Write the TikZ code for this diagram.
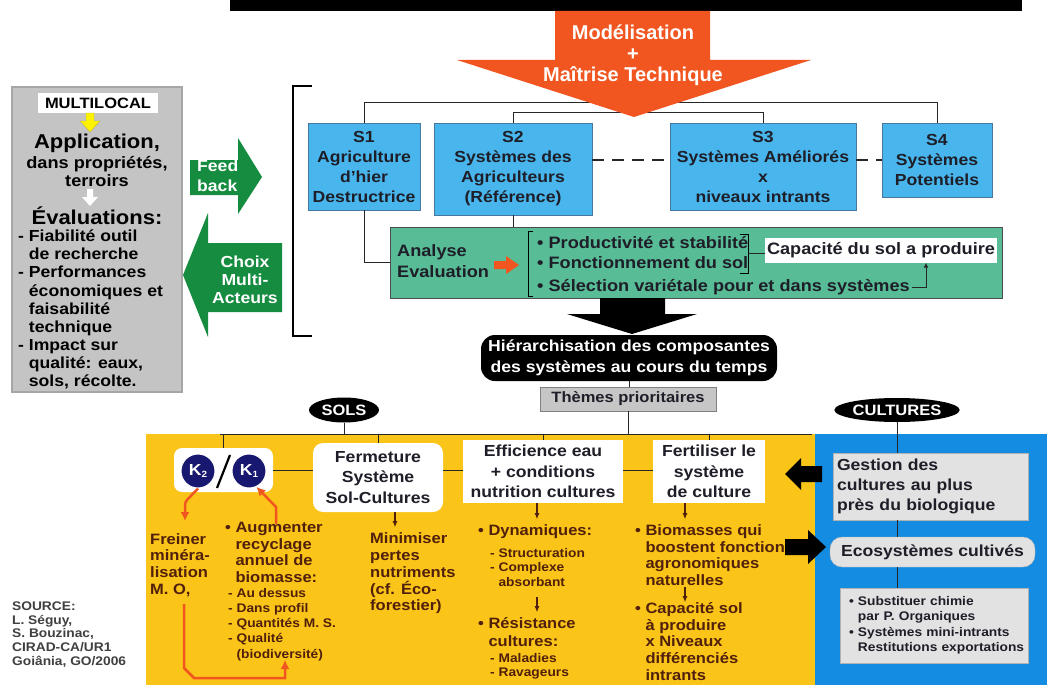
\documentclass[tikz,border=0pt]{standalone}
\usepackage{fontspec}
\setmainfont{Liberation Sans}[FakeStretch=1.1]
\newfontfamily\plainsans{Liberation Sans}
\usetikzlibrary{positioning, calc, arrows.meta, shapes.geometric}

\definecolor{orangeA}{RGB}{242,86,32}
\definecolor{sboxfill}{RGB}{72,182,236}
\definecolor{sboxline}{RGB}{70,120,160}
\definecolor{greenbox}{RGB}{88,188,150}
\definecolor{greenarr}{RGB}{22,140,64}
\definecolor{grayleft}{RGB}{196,196,196}
\definecolor{gold}{RGB}{250,196,24}
\definecolor{bluepanel}{RGB}{20,140,226}
\definecolor{lightgray}{RGB}{226,226,226}
\definecolor{brownT}{RGB}{80,32,12}
\definecolor{navyK}{RGB}{24,24,112}
\definecolor{darktext}{RGB}{30,30,40}

\newcommand{\fsz}[2]{\fontsize{#1}{#2}\selectfont\bfseries}

\begin{document}
\begin{tikzpicture}[x=1pt, y=-1pt,
  font=\fsz{15}{17},
  sbox/.style={rectangle, draw=sboxline, fill=sboxfill, align=center, text=darktext, inner sep=0pt, font=\fsz{16}{20}},
  wbox/.style={rectangle, fill=white, align=center, text=darktext, inner sep=0pt, font=\fsz{16}{20.5}},
  gbox/.style={rectangle, fill=lightgray, draw=gray!60, text=darktext, inner sep=0pt},
  txt/.style={inner sep=0pt, anchor=west, align=left, text=brownT},
  blk/.style={ellipse, fill=black, text=white, inner sep=0pt, font=\fsz{15}{17}},
  conn/.style={draw=black!85, line width=1pt},
  dashln/.style={draw=black!85, line width=1.8pt, dash pattern=on 12pt off 8pt},
  dn/.style={-{Latex[length=6pt,width=5pt]}, line width=1.2pt, brownT},
  orarr/.style={-{Latex[length=9pt,width=9pt]}, line width=2.5pt, orangeA},
]
\fill[white] (0,0) rectangle (1047,685);
\useasboundingbox (0,0) rectangle (1047,685);

% top
\fill[black] (230,0) rectangle (1022,11);

% S1..S4
\node[sbox, minimum width=112pt, minimum height=87pt] (s1) at (364,166.5) {S1\\Agriculture\\d’hier\\Destructrice};
\node[sbox, minimum width=158pt, minimum height=92pt] (s2) at (513,169) {S2\\Systèmes des\\Agriculteurs\\(Référence)};
\node[sbox, minimum width=186pt, minimum height=87pt] (s3) at (763,166.5) {S3\\Systèmes Améliorés\\x\\niveaux intrants};
\node[sbox, minimum width=110pt, minimum height=74pt] (s4) at (937,160) {S4\\Systèmes\\Potentiels};

\draw[conn] (s1.north) -- ++(0,-20) -| (s4.north);
\draw[conn] (s2.north) -- ++(0,-10) -| (s3.north);
\draw[dashln] (s2.east |- s4.west) -- (s3.west |- s4.west);
\draw[dashln] (s3.east |- s4.west) -- (s4.west);

% modelisation arrow
\fill[orangeA] (555,11) -- (710,11) -- (710,60) -- (811,60) -- (634,117) -- (457,60) -- (555,60) -- cycle;
\node[text=white, align=center, inner sep=0pt, font=\plainsans\fsz{20}{21}] (model) at (633,55) {Modélisation\\+\\Maîtrise Technique};

\draw[line width=2.5pt] (312,86) -- (293,86) -- (293,336) -- (312,336);

% analyse / evaluation
\node[rectangle, draw=black!70, fill=greenbox, minimum width=612pt, minimum height=71pt, inner sep=0pt] (evalbox) at (696,262.5) {};
\draw[conn] (s1.south) |- (evalbox.west);
\draw[conn] (s2.south) -- (s2.south |- evalbox.north);
\node[txt, text=darktext, font=\fsz{16.5}{21}] (analyse) at (397,261) {Analyse\\Evaluation};
\fill[orangeA] (494,261) -- (506,261) -- (506,256) -- (519,265) -- (506,274) -- (506,269) -- (494,269) -- cycle;
\draw[line width=1pt] (533,231) -- (528,231) -- (528,296) -- (533,296);
\node[txt, text=darktext, font=\fsz{16.5}{20}] (prod) at (537,243) {\textbullet\ Productivité et stabilité};
\node[txt, text=darktext, font=\fsz{16.5}{20}] (fonc) at (537,263) {\textbullet\ Fonctionnement du sol};
\node[txt, text=darktext, font=\fsz{16.5}{20}] (selec) at (537,287) {\textbullet\ Sélection variétale pour et dans systèmes};
\draw[line width=1pt] (740,234) -- (748,234) -- (748,273) -- (740,273);
\coordinate (brk) at (748,253);
\node[wbox, minimum width=232pt, minimum height=25pt, font=\fsz{16.5}{20}] (capa) at (881,250) {Capacité du sol a produire};
\draw[conn] (brk) -- (brk -| capa.west);
\draw[conn, -{Latex[length=5pt,width=5pt]}] ([xshift=2pt]selec.east) -| ([xshift=45pt]capa.south);

% hierarchisation
\fill[black] (600,298) -- (665,298) -- (665,314) -- (697,314) -- (632,334) -- (567,314) -- (600,314) -- cycle;
\node[rectangle, rounded corners=14pt, fill=black, text=white, align=center, font=\fsz{16}{21}, minimum width=296pt, minimum height=46pt, inner sep=0pt] (hier) at (629,358) {Hiérarchisation des composantes\\des systèmes au cours du temps};
\node[gbox, fill=gray!45, draw=gray, font=\fsz{15}{17}, minimum width=176pt, minimum height=24pt] (themes) at (628,399) {Thèmes prioritaires};
\draw[conn] (hier.south) -- (hier.south |- themes.north);

% panels
\fill[gold] (146,434) rectangle (815,685);
\fill[bluepanel] (815,434) rectangle (1047,685);
\coordinate (treeL) at (220,434);
\coordinate (treeR) at (812,434);
\draw[conn] (treeL) -- (treeR);
\draw[conn] (themes.south) -- (themes.south |- treeL);

\node[blk, minimum width=70pt, minimum height=25pt] (sols) at (344,410) {SOLS};
\draw[conn] (sols.south) -- (sols.south |- treeL);
\node[blk, minimum width=114pt, minimum height=24pt] (cult) at (897,410) {CULTURES};

% sols column
\node[rectangle, rounded corners=8pt, fill=white, minimum width=99pt, minimum height=44pt] (kbox) at (223.5,470) {};
\node[circle, fill=navyK, draw=white, line width=1pt, minimum size=34pt, inner sep=0pt, text=white, font=\fsz{16}{16}] (k2) at (198,471) {K\raisebox{-2pt}{\fsz{9}{9}2}};
\node[circle, fill=navyK, draw=white, line width=1pt, minimum size=34pt, inner sep=0pt, text=white, font=\fsz{16}{16}] (k1) at (249,471) {K\raisebox{-2pt}{\fsz{9}{9}1}};
\draw[line width=2.2pt] (217,488) -- (230,455);
\node[wbox, rounded corners=10pt, minimum width=130pt, minimum height=69pt] (ferm) at (378,477.5) {Fermeture\\Système\\Sol-Cultures};
\node[wbox, minimum width=160pt, minimum height=63pt] (effic) at (543,471.5) {Efficience eau\\+ conditions\\nutrition cultures};
\node[wbox, minimum width=112pt, minimum height=63pt] (fertil) at (709,471.5) {Fertiliser le\\système\\de culture};

\foreach \n in {kbox, ferm, effic, fertil} \draw[conn] (\n.north) -- (\n.north |- treeL);
\draw[conn] (kbox.east) -- (kbox.east -| ferm.west);
\draw[conn] (ferm.east |- kbox.east) -- (effic.west |- kbox.east);
\draw[conn] (effic.east |- kbox.east) -- (fertil.west |- kbox.east);

\node[txt, font=\fsz{15}{16.7}] (freiner) at (150,565) {Freiner\\minéra-\\lisation\\M. O,};
\node[txt, font=\fsz{15}{16.5}] (augm) at (225,552.5) {\textbullet\ Augmenter\\\phantom{\textbullet\ }recyclage\\\phantom{\textbullet\ }annuel de\\\phantom{\textbullet\ }biomasse:};
\node[txt, font=\fsz{12.5}{15.2}] (augsub) at (228,624.5) {- Au dessus\\- Dans profil\\- Quantités M. S.\\- Qualité\\\phantom{- }(biodiversité)};
\node[txt, font=\fsz{15}{16.7}] (minim) at (370,573.5) {Minimiser\\pertes\\nutriments\\(cf. Éco-\\forestier)};
\draw[dn] ([xshift=17pt]ferm.south) -- ++(0,15);

\coordinate (frtop) at (185,521);
\draw[orarr, rounded corners=3pt] (k2.south) -- (185,502) -- (frtop);
\coordinate (augtop) at (276,524);
\draw[orarr] (augtop) -- (276,507) -- (k1.-65);
\coordinate (loopA) at (184,604);
\coordinate (loopB) at (285,660);
\draw[orarr] (loopA) -- (184,668) -- (194,678) -- (285,678) -- (loopB);

% efficience column
\draw[dn] ([xshift=-6pt]effic.south) -- ++(0,16);
\node[txt, font=\fsz{15}{17}] (dyn) at (478,532) {\textbullet\ Dynamiques:};
\node[txt, font=\fsz{12.5}{14.5}] (dynsub) at (490,567.5) {- Structuration\\- Complexe\\\phantom{- }absorbant};
\draw[dn] ([xshift=-6pt, yshift=-94pt]effic.south) -- ++(0,15);
\node[txt, font=\fsz{15}{17.5}] (resist) at (478,632) {\textbullet\ Résistance\\\phantom{\textbullet\ }cultures:};
\node[txt, font=\fsz{12.5}{13.5}] (ressub) at (490,666.5) {- Maladies\\- Ravageurs};

% fertiliser column
\draw[dn] ([xshift=-24pt]fertil.south) -- ++(0,16);
\node[txt, font=\fsz{15}{16.7}] (biom) at (635,555) {\textbullet\ Biomasses qui\\\phantom{\textbullet\ }boostent fonction\\\phantom{\textbullet\ }agronomiques\\\phantom{\textbullet\ }naturelles};
\draw[dn] ([xshift=-24pt, yshift=-84pt]fertil.south) -- ++(0,15);
\node[txt, font=\fsz{15}{16.7}] (capsol) at (635,641.5) {\textbullet\ Capacité sol\\\phantom{\textbullet\ }à produire\\\phantom{\textbullet\ }x Niveaux\\\phantom{\textbullet\ }différenciés\\\phantom{\textbullet\ }intrants};

% arrows between panels
\fill[black] (822,466) -- (801,466) -- (801,458) -- (785,474) -- (801,490) -- (801,482) -- (822,482) -- cycle;
\fill[black] (785,539) -- (808,539) -- (808,530) -- (826,547) -- (808,564) -- (808,555) -- (785,555) -- cycle;

% cultures column
\node[gbox, text width=187pt, align=left, inner sep=4pt, minimum height=67pt, font=\fsz{16}{20}] (gest) at (930.5,486.5) {Gestion des\\cultures au plus\\près du biologique};
\draw[conn] (cult.south) -- (cult.south |- gest.north);
\node[gbox, rounded corners=12pt, minimum width=205pt, minimum height=30pt, font=\fsz{16}{20}] (ecos) at (932.5,552) {Ecosystèmes cultivés};
\node[gbox, text width=182pt, align=left, inner sep=3pt, minimum height=75pt, font=\fsz{12.5}{15.5}] (subst) at (934,625.5) {\hspace*{6pt}\textbullet\ Substituer chimie\\\hspace*{6pt}\phantom{\textbullet\ }par P. Organiques\\\hspace*{6pt}\textbullet\ Systèmes mini-intrants\\\hspace*{6pt}\phantom{\textbullet\ }Restitutions exportations};
\draw[conn] (gest.south -| cult.south) -- (ecos.north -| cult.south);
\draw[conn] (ecos.south -| cult.south) -- (subst.north -| cult.south);

% multilocal
\node[rectangle, draw=gray!70, line width=1.5pt, fill=grayleft, minimum width=170pt, minimum height=305pt] (multi) at (97,239.5) {};
\node[rectangle, fill=white, minimum width=120pt, minimum height=20pt, inner sep=0pt, font=\fsz{15}{17}] (mlocal) at (98,103) {MULTILOCAL};
\filldraw[fill=yellow, draw=yellow!70!black, line width=0.4pt] (86,113) -- (94,113) -- (94,121) -- (100,121) -- (90,132) -- (80,121) -- (86,121) -- cycle;
\node[font=\fsz{20}{22}, inner sep=0pt] (appli) at (97,143) {Application,};
\node[font=\fsz{16.5}{18}, align=center, inner sep=0pt] (dans) at (97,172) {dans propriétés,\\terroirs};
\fill[white] (87,189) -- (93,189) -- (93,197) -- (98,197) -- (90,206) -- (82,197) -- (87,197) -- cycle;
\node[font=\fsz{20}{22}, inner sep=0pt] (evals) at (97,216) {Évaluations:};
\node[txt, text=black, font=\fsz{16}{18.1}] (evlist) at (18,309.5) {- Fiabilité outil\\\phantom{- }de recherche\\- Performances\\\phantom{- }économiques et\\\phantom{- }faisabilité\\\phantom{- }technique\\- Impact sur\\\phantom{- }qualité: eaux,\\\phantom{- }sols, récolte.};

% feed back / choix
\fill[greenarr] (190,160) -- (238,160) -- (238,138) -- (262,177) -- (238,214) -- (238,195) -- (190,195) -- cycle;
\node[txt, text=white, font=\fsz{16}{20}] (feed) at (197,176) {Feed\\back};
\fill[greenarr] (282,243) -- (208,243) -- (208,213) -- (183,275) -- (208,337) -- (208,312) -- (282,312) -- cycle;
\node[text=white, align=center, font=\fsz{16}{18}, inner sep=0pt] (choix) at (245,280) {Choix\\Multi-\\Acteurs};

\node[txt, text=black!75, font=\fsz{12.5}{13.75}] (source) at (12,634.5) {SOURCE:\\L. Séguy,\\S. Bouzinac,\\CIRAD-CA/UR1\\Goiânia, GO/2006};
\end{tikzpicture}
\end{document}
